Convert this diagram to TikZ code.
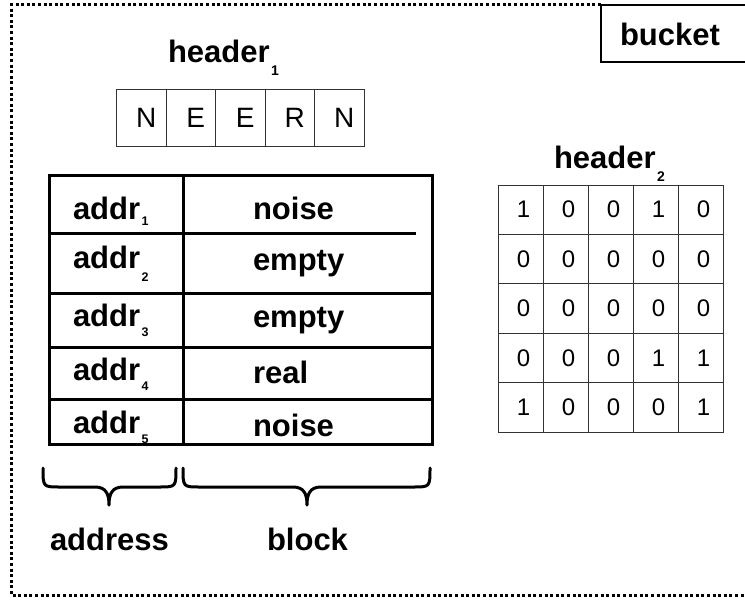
\documentclass[tikz,border=0pt]{standalone}
\usepackage{fontspec}
\setmainfont{Liberation Sans}
% lowered subscript: #1 = drop below the baseline, #2 = size, #3 = text
\newcommand\lowsub[3]{\kern1.5pt\raisebox{-#1pt}{\fontsize{#2}{#2}\selectfont #3}}
\begin{document}
\begin{tikzpicture}[x=1pt,y=-1pt,
  lbl/.style={inner sep=0pt, outer sep=0pt, font=\fontsize{31}{36}\selectfont\bfseries},
  thin cell/.style={draw=black!80, line width=1pt, inner sep=0pt, outer sep=0pt},
  hcell/.style={thin cell, minimum width=49.5pt, minimum height=56pt},
  gcell/.style={thin cell, minimum width=45pt, minimum height=49.4pt},
  hletter/.style={inner sep=0pt, xshift=5pt, font=\fontsize{28}{30}\selectfont},
  gdigit/.style={inner sep=0pt, xshift=3pt, font=\fontsize{24}{26}\selectfont},
  thick rule/.style={line width=3pt},
  brace/.style={line width=3pt, line cap=round, line join=round},
  dots/.style={line width=3pt, dash pattern=on 3pt off 2.6pt}
]
\useasboundingbox (0,0) rectangle (745,602);

% dotted outline of the bucket (right side lies beyond the frame)
\coordinate (bTR) at (601,5);
\coordinate (bTL) at (11,5);
\coordinate (bBL) at (11,595);
\coordinate (bBR) at (745,595);
\draw[dots] (bTR) -- (bTL) -- (bBL) -- (bBR);

% bucket tag
\coordinate (tagA) at (745,5);
\coordinate (tagB) at (601,5);
\coordinate (tagC) at (601,62);
\coordinate (tagD) at (745,62);
\draw[line width=2.7pt] (tagA) -- (tagB) -- (tagC) -- (tagD);
\node[lbl, anchor=base west] (bucket) at (620,46) {bucket};

% header 1
\node[lbl, anchor=base west] (h1) at (168,63) {header\lowsub{13}{14}{1}};
\foreach \t [count=\i from 0] in {N,E,E,R,N}
  \node[hcell, label={[hletter]center:\t}] (n\i) at ({141.25+49.5*\i},118) {};

% address / block table
\coordinate (tl) at (49,175);
\coordinate (br) at (432,444);
\draw[thick rule] (tl) rectangle (br);
\coordinate (dv1) at (183,175);
\coordinate (dv2) at (183,444);
\draw[thick rule] (dv1) -- (dv2);
\coordinate (r1a) at (49,233);
\coordinate (r1b) at (416,233);
\draw[thick rule] (r1a) -- (r1b);
\foreach \y [count=\k from 2] in {293,347,399}{
  \coordinate (r\k a) at (49,\y);
  \coordinate (r\k b) at (432,\y);
  \draw[thick rule] (r\k a) -- (r\k b);
}
\foreach \y/\n/\d [count=\k] in {219/1/6,268/2/13,326/3/10,380/4/10,433/5/10}
  \node[lbl, anchor=base west] (addr\k) at (73,\y) {addr\lowsub{\d}{12.5}{\n}};
\foreach \y/\w [count=\k] in {219/noise,270/empty,327/empty,383/real,436/noise}
  \node[lbl, anchor=base west] (blk\k) at (253,\y) {\w};

% braces under the table
\coordinate (a0) at (43,468);
\coordinate (a1) at (176,468);
\coordinate (at) at (109,505);
\draw[brace] (a0) .. controls (43,487) .. (60,487) -- (95,487)
  .. controls (106,487) and (109,494) .. (at)
  .. controls (109,494) and (112,487) .. (123,487) -- (159,487)
  .. controls (176,487) .. (a1);
\coordinate (k0) at (183,468);
\coordinate (k1) at (430,468);
\coordinate (kt) at (307,505);
\draw[brace] (k0) .. controls (183,487) .. (200,487) -- (293,487)
  .. controls (304,487) and (307,494) .. (kt)
  .. controls (307,494) and (310,487) .. (321,487) -- (413,487)
  .. controls (430,487) .. (k1);
\node[lbl, anchor=base west] (address) at (50,550) {address};
\node[lbl, anchor=base west] (block) at (267,550) {block};

% header 2
\node[lbl, anchor=base west] (h2) at (554,168) {header\lowsub{13}{14}{2}};
\foreach \row [count=\r from 0] in {{1,0,0,1,0},{0,0,0,0,0},{0,0,0,0,0},{0,0,0,1,1},{1,0,0,0,1}}{
  \foreach \v [count=\c from 0] in \row {
    \node[gcell, label={[gdigit]center:\v}] (g\r\c) at ({520.5+45*\c},{209.7+49.4*\r}) {};
  }
}
\end{tikzpicture}
\end{document}
